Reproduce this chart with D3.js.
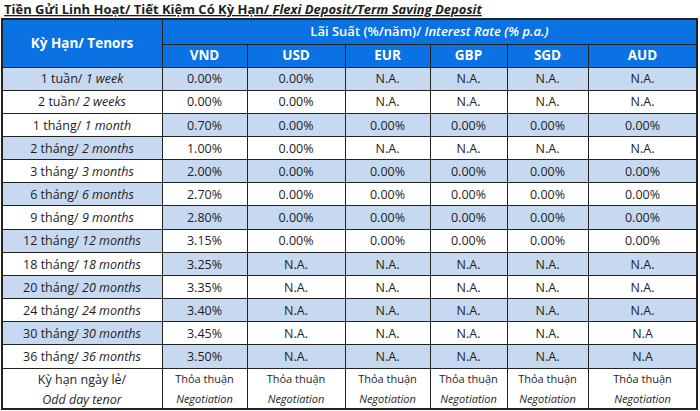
<!DOCTYPE html>
<html>
<head>
<meta charset="utf-8">
<script src="https://cdn.jsdelivr.net/npm/d3@7"></script>
<style>
  body { margin: 0; background: #fff; }
  svg { display: block; font-family: "Open Sans", "Noto Sans", sans-serif; }
</style>
</head>
<body>
<svg id="tbl" width="700" height="411"></svg>
<script>
// data
const tenorsVi = ["1 tuần", "2 tuần", "1 tháng", "2 tháng", "3 tháng", "6 tháng", "9 tháng",
  "12 tháng", "18 tháng", "20 tháng", "24 tháng", "30 tháng", "36 tháng"];
const tenorsEn = ["1 week", "2 weeks", "1 month", "2 months", "3 months", "6 months", "9 months",
  "12 months", "18 months", "20 months", "24 months", "30 months", "36 months"];
const currencies = ["VND", "USD", "EUR", "GBP", "SGD", "AUD"];

const vnd = [0.00, 0.00, 0.70, 1.00, 2.00, 2.70, 2.80, 3.15, 3.25, 3.35, 3.40, 3.45, 3.50];
const usd = [0.00, 0.00, 0.00, 0.00, 0.00, 0.00, 0.00, 0.00, null, null, null, null, null];
const eur = [null, null, 0.00, null, 0.00, 0.00, 0.00, 0.00, null, null, null, null, null];
const gbp = [null, null, 0.00, null, 0.00, 0.00, 0.00, 0.00, null, null, null, null, null];
const sgd = [null, null, 0.00, null, 0.00, 0.00, 0.00, 0.00, null, null, null, null, null];
const aud = [null, null, 0.00, null, 0.00, 0.00, 0.00, 0.00, null, null, null, "N.A", "N.A"];

// which tenor cells carry the light-blue fill
const tenorShaded = [true, false, false, true, false, true, false, true, false, true, false, true, false];

const series = [vnd, usd, eur, gbp, sgd, aud];

const blue = "#0a72e2", light = "#c6d9f1", ink = "#1e1e1e", line = "#222";

const svg = d3.select("#tbl");

// column edges
const edges = [2, 162, 247, 345, 430, 507, 588, 697];
const headTop = 19, headMid = 44, headBot = 67, rowsBot = 368, tableBot = 409;

const y = d3.scaleBand()
  .domain(d3.range(tenorsVi.length))
  .range([headBot, rowsBot]);

const fmt = d3.format(".2f");
function label(v) {
  if (v === null) return "N.A.";
  if (typeof v === "string") return v;
  return fmt(v) + "%";
}

// title
const title = svg.append("text")
  .attr("x", 4).attr("y", 14)
  .attr("font-size", 13).attr("font-weight", "bold")
  .attr("text-decoration", "underline")
  .attr("fill", ink);
title.append("tspan").text("Tiền Gửi Linh Hoạt/ Tiết Kiệm Có Kỳ Hạn/ ");
title.append("tspan").attr("font-style", "italic").text("Flexi Deposit/Term Saving Deposit");

// header background
svg.append("rect")
  .attr("x", edges[0]).attr("y", headTop)
  .attr("width", edges[7] - edges[0]).attr("height", headBot - headTop)
  .attr("fill", blue);

svg.append("text")
  .attr("x", (edges[0] + edges[1]) / 2).attr("y", (headTop + headBot) / 2)
  .attr("dy", "0.35em").attr("text-anchor", "middle")
  .attr("font-size", 13.5).attr("font-weight", "bold").attr("fill", "#fff")
  .text("Kỳ Hạn/ Tenors");

const rateHead = svg.append("text")
  .attr("x", (edges[1] + edges[7]) / 2).attr("y", (headTop + headMid) / 2)
  .attr("dy", "0.35em").attr("text-anchor", "middle")
  .attr("font-size", 13).attr("fill", "#fff");
rateHead.append("tspan").attr("font-weight", "600").text("Lãi Suất (%/năm)/ ");
rateHead.append("tspan").attr("font-style", "italic").attr("font-weight", "600").text("Interest Rate (% p.a.)");

svg.selectAll("text.cur")
  .data(currencies)
  .join("text")
  .attr("class", "cur")
  .attr("x", (d, i) => (edges[i + 1] + edges[i + 2]) / 2)
  .attr("y", (headMid + headBot) / 2)
  .attr("dy", "0.35em").attr("text-anchor", "middle")
  .attr("font-size", 13.5).attr("font-weight", "bold").attr("fill", "#fff")
  .text(d => d);

// body rows
const rows = svg.selectAll("g.row")
  .data(tenorsVi.map((t, i) => i))
  .join("g")
  .attr("class", "row")
  .attr("transform", i => `translate(0,${y(i)})`);

rows.append("rect")
  .attr("x", edges[0]).attr("width", edges[1] - edges[0])
  .attr("height", y.bandwidth())
  .attr("fill", i => tenorShaded[i] ? light : "#fff");

rows.append("rect")
  .attr("x", edges[1]).attr("width", edges[7] - edges[1])
  .attr("height", y.bandwidth())
  .attr("fill", i => i % 2 === 0 ? light : "#fff");

const tenorText = rows.append("text")
  .attr("x", (edges[0] + edges[1]) / 2).attr("y", y.bandwidth() / 2)
  .attr("dy", "0.38em").attr("text-anchor", "middle")
  .attr("font-size", 12.5).attr("fill", ink);
tenorText.append("tspan").text(i => tenorsVi[i] + "/ ");
tenorText.append("tspan").attr("font-style", "italic").text(i => tenorsEn[i]);

rows.selectAll("text.val")
  .data(i => series.map((s, c) => ({ c, v: s[i] })))
  .join("text")
  .attr("class", "val")
  .attr("x", d => (edges[d.c + 1] + edges[d.c + 2]) / 2)
  .attr("y", y.bandwidth() / 2)
  .attr("dy", "0.38em").attr("text-anchor", "middle")
  .attr("font-size", 12.5).attr("fill", ink)
  .text(d => label(d.v));

// odd day tenor row
const lastMid = (rowsBot + tableBot) / 2;
svg.append("text")
  .attr("x", (edges[0] + edges[1]) / 2).attr("y", lastMid - 9)
  .attr("dy", "0.35em").attr("text-anchor", "middle")
  .attr("font-size", 12.5).attr("fill", ink)
  .text("Kỳ hạn ngày lẻ/");
svg.append("text")
  .attr("x", (edges[0] + edges[1]) / 2).attr("y", lastMid + 11)
  .attr("dy", "0.35em").attr("text-anchor", "middle")
  .attr("font-size", 12.5).attr("font-style", "italic").attr("fill", ink)
  .text("Odd day tenor");

currencies.forEach((c, k) => {
  const cx = (edges[k + 1] + edges[k + 2]) / 2;
  svg.append("text")
    .attr("x", cx).attr("y", lastMid - 9)
    .attr("dy", "0.35em").attr("text-anchor", "middle")
    .attr("font-size", 11).attr("fill", ink)
    .text("Thỏa thuận");
  svg.append("text")
    .attr("x", cx).attr("y", lastMid + 11)
    .attr("dy", "0.35em").attr("text-anchor", "middle")
    .attr("font-size", 11).attr("font-style", "italic").attr("fill", ink)
    .text("Negotiation");
});

// grid lines
const g = svg.append("g").attr("stroke", line).attr("stroke-width", 1).attr("shape-rendering", "crispEdges");

// horizontal lines
const hLines = [headBot].concat(d3.range(tenorsVi.length).map(i => y(i) + y.bandwidth()));
g.selectAll("line.h")
  .data(hLines)
  .join("line")
  .attr("x1", edges[0]).attr("x2", edges[7])
  .attr("y1", d => d).attr("y2", d => d);
g.append("line").attr("x1", edges[1]).attr("x2", edges[7]).attr("y1", headMid).attr("y2", headMid);

// vertical lines
g.selectAll("line.v")
  .data(edges.slice(1, 7))
  .join("line")
  .attr("x1", d => d).attr("x2", d => d)
  .attr("y1", (d, i) => i === 0 ? headTop : headMid)
  .attr("y2", tableBot);

// outer border
g.append("rect")
  .attr("x", edges[0]).attr("y", headTop)
  .attr("width", edges[7] - edges[0]).attr("height", tableBot - headTop)
  .attr("fill", "none").attr("stroke-width", 1.5);
</script>
</body>
</html>
